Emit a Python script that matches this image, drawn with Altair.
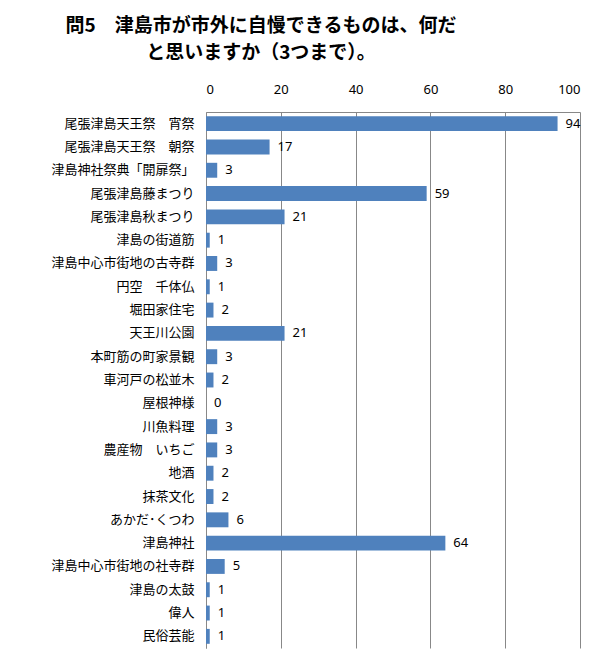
import altair as alt
import pandas as pd

categories = [
    "尾張津島天王祭　宵祭", "尾張津島天王祭　朝祭", "津島神社祭典「開扉祭」",
    "尾張津島藤まつり", "尾張津島秋まつり", "津島の街道筋", "津島中心市街地の古寺群",
    "円空　千体仏", "堀田家住宅", "天王川公園", "本町筋の町家景観", "車河戸の松並木",
    "屋根神様", "川魚料理", "農産物　いちご", "地酒", "抹茶文化", "あかだ･くつわ",
    "津島神社", "津島中心市街地の社寺群", "津島の太鼓", "偉人", "民俗芸能",
]
values = [94, 17, 3, 59, 21, 1, 3, 1, 2, 21, 3, 2, 0, 3, 3, 2, 2, 6, 64, 5, 1, 1, 1]
x_ticks = [0, 20, 40, 60, 80, 100]
title_lines = ["問5　津島市が市外に自慢できるものは、何だ", "と思いますか（3つまで）。"]

df = pd.DataFrame({"cat": categories, "val": values})

y_enc = alt.Y("cat:N", sort=categories,
              scale=alt.Scale(domain=categories, paddingInner=0.36, paddingOuter=0.18),
              axis=alt.Axis(title=None, ticks=False, domain=True, domainColor="#888888",
                            labelFont="Noto Sans CJK JP", labelFontSize=13,
                            labelColor="#000000", labelPadding=12, labelLimit=300))

bars = alt.Chart(df).mark_bar(color="#4F81BD").encode(
    x=alt.X("val:Q", scale=alt.Scale(domain=[0, 100], nice=False),
            axis=alt.Axis(title=None, orient="top", values=x_ticks, ticks=False,
                          domain=True, domainColor="#888888", grid=True,
                          gridColor="#888888", gridWidth=1, gridOpacity=1,
                          labelFont="Noto Sans", labelFontSize=13,
                          labelColor="#000000", labelPadding=16)),
    y=y_enc,
)

labels = alt.Chart(df).mark_text(align="left", baseline="middle", dx=8,
                                 font="Noto Sans", fontSize=13, color="#000000").encode(
    x=alt.X("val:Q"),
    y=alt.Y("cat:N", sort=categories),
    text=alt.Text("val:Q"),
)

chart = (bars + labels).properties(
    width=374, height=536,
    autosize=alt.AutoSizeParams(type="none"),
    padding={"left": 198, "top": 104, "right": 10, "bottom": 2},
    title=alt.TitleParams(text=title_lines, font="Noto Sans CJK JP", fontSize=19,
                          fontWeight="bold", color="#000000", anchor="middle",
                          dx=-132, offset=20, lineHeight=27),
).configure_view(stroke=None)

chart.save("out.html", embed_options={"renderer": "svg", "actions": False})
